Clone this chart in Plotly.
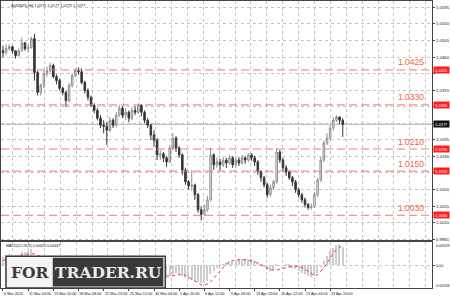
import plotly.graph_objects as go

# ---------------- data (AUDNZD, 8h bars) ----------------
opens = [1.0477, 1.0472, 1.0483, 1.0488, 1.0477, 1.0464, 1.0477, 1.0499, 1.0483, 1.0486,
         1.0510, 1.0418, 1.0364, 1.0383, 1.0415, 1.0423, 1.0437, 1.0407, 1.0396, 1.0375,
         1.0364, 1.0342, 1.0383, 1.0410, 1.0423, 1.0420, 1.0391, 1.0369, 1.0351, 1.0329,
         1.0315, 1.0294, 1.0275, 1.0272, 1.0261, 1.0288, 1.0275, 1.0302, 1.0321, 1.0302,
         1.0310, 1.0294, 1.0315, 1.0310, 1.0329, 1.0310, 1.0288, 1.0275, 1.0248, 1.0234,
         1.0194, 1.0197, 1.0186, 1.0175, 1.0213, 1.0240, 1.0213, 1.0194, 1.0153, 1.0121,
         1.0110, 1.0112, 1.0086, 1.0045, 1.0032, 1.0045, 1.0072, 1.0194, 1.0167, 1.0175,
         1.0167, 1.0180, 1.0172, 1.0186, 1.0167, 1.0180, 1.0172, 1.0186, 1.0180, 1.0194,
         1.0186, 1.0175, 1.0148, 1.0132, 1.0113, 1.0086, 1.0105, 1.0121, 1.0202, 1.0180,
         1.0159, 1.0148, 1.0132, 1.0121, 1.0099, 1.0086, 1.0072, 1.0059, 1.0051, 1.0053,
         1.0086, 1.0126, 1.0180, 1.0226, 1.0240, 1.0267, 1.0288, 1.0297, 1.0288]
highs = [1.0491, 1.0494, 1.0496, 1.0491, 1.0477, 1.0483, 1.0513, 1.0499, 1.0494, 1.0515,
         1.0523, 1.0423, 1.0388, 1.0423, 1.0434, 1.0445, 1.0442, 1.0413, 1.0402, 1.0380,
         1.0369, 1.0391, 1.0415, 1.0429, 1.0432, 1.0429, 1.0396, 1.0375, 1.0356, 1.0334,
         1.0321, 1.0302, 1.0288, 1.0283, 1.0297, 1.0294, 1.0310, 1.0329, 1.0326, 1.0321,
         1.0315, 1.0324, 1.0326, 1.0334, 1.0332, 1.0315, 1.0294, 1.0278, 1.0261, 1.0240,
         1.0207, 1.0202, 1.0191, 1.0221, 1.0253, 1.0245, 1.0218, 1.0199, 1.0159, 1.0126,
         1.0153, 1.0116, 1.0091, 1.0053, 1.0059, 1.0083, 1.0213, 1.0199, 1.0186, 1.0183,
         1.0188, 1.0186, 1.0194, 1.0191, 1.0186, 1.0188, 1.0194, 1.0191, 1.0199, 1.0199,
         1.0191, 1.0180, 1.0153, 1.0137, 1.0118, 1.0113, 1.0126, 1.0213, 1.0207, 1.0186,
         1.0167, 1.0153, 1.0137, 1.0126, 1.0105, 1.0091, 1.0078, 1.0064, 1.0062, 1.0094,
         1.0132, 1.0188, 1.0234, 1.0253, 1.0275, 1.0297, 1.0302, 1.0299, 1.0294]
lows = [1.0459, 1.0467, 1.0477, 1.0469, 1.0456, 1.0461, 1.0475, 1.0477, 1.0472, 1.0483,
        1.0396, 1.0356, 1.0356, 1.0375, 1.0407, 1.0418, 1.0402, 1.0386, 1.0369, 1.0356,
        1.0324, 1.0337, 1.0377, 1.0405, 1.0413, 1.0386, 1.0361, 1.0342, 1.0324, 1.0307,
        1.0288, 1.0267, 1.0253, 1.0221, 1.0256, 1.0267, 1.0269, 1.0297, 1.0294, 1.0288,
        1.0283, 1.0288, 1.0302, 1.0305, 1.0299, 1.0280, 1.0267, 1.0234, 1.0216, 1.0180,
        1.0180, 1.0175, 1.0161, 1.0172, 1.0207, 1.0202, 1.0186, 1.0140, 1.0113, 1.0099,
        1.0097, 1.0072, 1.0037, 1.0016, 1.0029, 1.0040, 1.0067, 1.0153, 1.0159, 1.0153,
        1.0161, 1.0159, 1.0167, 1.0159, 1.0159, 1.0164, 1.0167, 1.0170, 1.0175, 1.0178,
        1.0164, 1.0140, 1.0121, 1.0105, 1.0078, 1.0080, 1.0099, 1.0116, 1.0172, 1.0151,
        1.0137, 1.0126, 1.0110, 1.0091, 1.0078, 1.0064, 1.0051, 1.0045, 1.0045, 1.0051,
        1.0080, 1.0121, 1.0175, 1.0221, 1.0234, 1.0261, 1.0283, 1.0278, 1.0243]
closes = [1.0472, 1.0483, 1.0488, 1.0477, 1.0464, 1.0477, 1.0499, 1.0483, 1.0486, 1.0510,
          1.0418, 1.0364, 1.0383, 1.0415, 1.0423, 1.0437, 1.0407, 1.0396, 1.0375, 1.0364,
          1.0342, 1.0383, 1.0410, 1.0423, 1.0420, 1.0391, 1.0369, 1.0351, 1.0329, 1.0315,
          1.0294, 1.0275, 1.0272, 1.0261, 1.0288, 1.0275, 1.0302, 1.0321, 1.0302, 1.0310,
          1.0294, 1.0315, 1.0310, 1.0329, 1.0310, 1.0288, 1.0275, 1.0248, 1.0234, 1.0194,
          1.0197, 1.0186, 1.0175, 1.0213, 1.0240, 1.0213, 1.0194, 1.0153, 1.0121, 1.0110,
          1.0112, 1.0086, 1.0045, 1.0032, 1.0045, 1.0072, 1.0194, 1.0167, 1.0175, 1.0167,
          1.0180, 1.0172, 1.0186, 1.0167, 1.0180, 1.0172, 1.0186, 1.0180, 1.0194, 1.0186,
          1.0175, 1.0148, 1.0132, 1.0113, 1.0086, 1.0105, 1.0121, 1.0202, 1.0180, 1.0159,
          1.0148, 1.0132, 1.0121, 1.0099, 1.0086, 1.0072, 1.0059, 1.0051, 1.0053, 1.0086,
          1.0126, 1.0180, 1.0226, 1.0240, 1.0267, 1.0288, 1.0297, 1.0288, 1.0277]

macd_main = [0.0018, 0.0022, 0.0026, 0.0026, 0.0022, 0.0024, 0.0030, 0.0030, 0.0031, 0.0036,
             0.0020, -0.0002, -0.0012, -0.0014, -0.0012, -0.0008, -0.0010, -0.0013, -0.0018, -0.0022,
             -0.0028, -0.0026, -0.0020, -0.0014, -0.0010, -0.0011, -0.0015, -0.0022, -0.0030, -0.0036,
             -0.0042, -0.0047, -0.0050, -0.0053, -0.0049, -0.0045, -0.0039, -0.0032, -0.0028, -0.0024,
             -0.0022, -0.0018, -0.0015, -0.0011, -0.0010, -0.0012, -0.0015, -0.0019, -0.0023, -0.0029,
             -0.0032, -0.0033, -0.0030, -0.0026, -0.0020, -0.0019, -0.0021, -0.0026, -0.0031, -0.0034,
             -0.0034, -0.0036, -0.0040, -0.0042, -0.0041, -0.0037, -0.0022, -0.0014, -0.0008, -0.0003,
             0.0001, 0.0005, 0.0009, 0.0010, 0.0012, 0.0012, 0.0013, 0.0013, 0.0014, 0.0013,
             0.0011, 0.0006, 0.0001, -0.0005, -0.0011, -0.0013, -0.0012, -0.0003, 0.0000, 0.0000,
             -0.0001, -0.0004, -0.0006, -0.0010, -0.0014, -0.0018, -0.0022, -0.0026, -0.0028, -0.0026,
             -0.0018, -0.0005, 0.0010, 0.0021, 0.0031, 0.0040, 0.0046, 0.0048, 0.00420]
macd_signal = [0.0011, 0.0013, 0.0016, 0.0019, 0.0021, 0.0022, 0.0024, 0.0025, 0.0026, 0.0027,
               0.0026, 0.0024, 0.0020, 0.0016, 0.0012, 0.0008, 0.0004, 0.0001, -0.0003, -0.0006,
               -0.0010, -0.0013, -0.0015, -0.0016, -0.0016, -0.0015, -0.0015, -0.0016, -0.0018, -0.0021,
               -0.0025, -0.0030, -0.0035, -0.0039, -0.0042, -0.0043, -0.0043, -0.0041, -0.0038, -0.0034,
               -0.0030, -0.0027, -0.0024, -0.0021, -0.0018, -0.0016, -0.0015, -0.0015, -0.0017, -0.0019,
               -0.0022, -0.0024, -0.0025, -0.0025, -0.0024, -0.0022, -0.0021, -0.0021, -0.0023, -0.0027,
               -0.0031, -0.0035, -0.0040, -0.0045, -0.0046, -0.0043, -0.0038, -0.0030, -0.0022, -0.0013,
               -0.0005, 0.0003, 0.0008, 0.0011, 0.0012, 0.0013, 0.0013, 0.0013, 0.0012, 0.0010,
               0.0008, 0.0005, 0.0001, -0.0003, -0.0007, -0.0010, -0.0011, -0.0011, -0.0009, -0.0007,
               -0.0005, -0.0003, -0.0002, -0.0002, -0.0003, -0.0005, -0.0009, -0.0014, -0.0020, -0.0024,
               -0.0022, -0.0015, -0.0006, 0.0005, 0.0017, 0.0028, 0.0036, 0.0042, 0.00447]

levels = [1.0425, 1.0330, 1.0210, 1.0150, 1.0030]
price_tick_labels = [1.0595, 1.0550, 1.0505, 1.0460, 1.0370, 1.0235, 1.0190, 1.0100, 1.0055, 1.0010, 0.9965]
x_labels = ["6 Mar 2015", "11 Mar 04:00", "13 Mar 20:00", "18 Mar 08:00", "22 Mar 23:00",
            "25 Mar 12:00", "30 Mar 04:00", "1 Apr 20:00", "6 Apr 12:00", "9 Apr 04:00",
            "13 Apr 20:00", "16 Apr 12:00", "21 Apr 04:00", "23 Apr 20:00"]
x_label_bars = [0, 8, 16, 24, 32, 40, 48, 56, 64, 72, 80, 88, 96, 104]
macd_top, macd_bottom = 0.00529, -0.00526
title_text = "AUDNZD,H4 1.0275 1.0277 1.0275 1.0277"

# ---------------- geometry helpers ----------------
W, H = 450, 300
PX_PER_BAR = 3.16
X_FIRST = 2.0
RIGHT = 433.0


def px(x):
    return x / W


def py(y):
    return 1 - y / H


bars = list(range(len(closes)))
kmin = (0 - X_FIRST) / PX_PER_BAR
kmax = (RIGHT - X_FIRST) / PX_PER_BAR
grid0 = (11.7 - X_FIRST) / PX_PER_BAR
griddt = 15.96 / PX_PER_BAR

GRID = "#c4c4c4"
LINE = "#444444"
FONT = "Liberation Sans"

fig = go.Figure()
fig.add_trace(go.Candlestick(
    x=bars, open=opens, high=highs, low=lows, close=closes,
    increasing=dict(line=dict(color="#8e8e8e", width=1), fillcolor="#f2f2f2"),
    decreasing=dict(line=dict(color="#353535", width=1), fillcolor="#353535"),
    whiskerwidth=0, xaxis="x", yaxis="y", showlegend=False, hoverinfo="skip"))
fig.add_trace(go.Bar(
    x=bars, y=macd_main, width=0.45,
    marker=dict(color="#cdcdcd", line=dict(width=0)),
    xaxis="x2", yaxis="y2", showlegend=False, hoverinfo="skip"))
fig.add_trace(go.Scatter(
    x=bars, y=macd_signal, mode="lines",
    line=dict(color="#ff2a2a", width=1, dash="dot"),
    xaxis="x2", yaxis="y2", showlegend=False, hoverinfo="skip"))

shapes = []
for lv in levels:
    shapes.append(dict(type="line", xref="paper", yref="y", x0=0, x1=px(RIGHT), y0=lv, y1=lv,
                       line=dict(color="#f47676", width=1, dash="8px,4px"), layer="above"))
shapes.append(dict(type="line", xref="paper", yref="y", x0=0, x1=px(RIGHT),
                   y0=closes[-1], y1=closes[-1], line=dict(color="#b8b8b8", width=1), layer="below"))
# watermark logo
shapes.append(dict(type="rect", xref="paper", yref="paper", x0=px(5), x1=px(165), y0=py(289), y1=py(257),
                   fillcolor="#f4f4f4", line=dict(color="#3c3c3c", width=1.5), layer="above"))
shapes.append(dict(type="rect", xref="paper", yref="paper", x0=px(52), x1=px(163), y0=py(287.5), y1=py(258.5),
                   fillcolor="#3a3a3a", line=dict(width=0), layer="above"))

ann = []
tiny = dict(family=FONT, size=3.9, color="#111111")
ann.append(dict(text=title_text, x=px(8), y=py(4.5), xref="paper", yref="paper",
                xanchor="left", yanchor="middle", showarrow=False, font=tiny))
ann.append(dict(text=f"MACD(12,26,9) {macd_main[-1]:.5f} {macd_signal[-1]:.5f}", x=px(3), y=py(247),
                xref="paper", yref="paper", xanchor="left", yanchor="middle", showarrow=False,
                font=dict(family=FONT, size=3.7, color="#111111")))
for lab, b in zip(x_labels, x_label_bars):
    ann.append(dict(text=lab, x=b, xref="x2", y=py(294.8), yref="paper", xanchor="left", yanchor="middle",
                    showarrow=False, font=dict(family=FONT, size=3.8, color="#111111"), xshift=-1))
for txt, xpx, ypx in [(f"{macd_top:.5f}", 435, 246.5), ("0.00", 435, 266.5), (f"{macd_bottom:.5f}", 433.5, 287.3)]:
    ann.append(dict(text=txt, x=px(xpx), y=py(ypx), xref="paper", yref="paper", xanchor="left",
                    yanchor="middle", showarrow=False, font=dict(family=FONT, size=3.7, color="#111111")))
for lv in levels:
    ann.append(dict(text=f"{lv:.4f}", x=px(426.5), y=lv, xref="paper", yref="y", xanchor="right",
                    yanchor="bottom", yshift=0.5, showarrow=False,
                    font=dict(family=FONT, size=8.5, color="#ff5a36")))
    ann.append(dict(text=f"{lv:.4f}", x=px(433.5), y=lv, xref="paper", yref="y", xanchor="left",
                    yanchor="middle", showarrow=False, bgcolor="#ff1e1e", borderpad=0.6, width=14,
                    font=dict(family=FONT, size=4.0, color="#ffffff")))
ann.append(dict(text=f"{closes[-1]:.4f}", x=px(433.5), y=closes[-1], xref="paper", yref="y",
                xanchor="left", yanchor="middle", showarrow=False, bgcolor="#111111", borderpad=0.6,
                width=14, font=dict(family=FONT, size=4.0, color="#ffffff")))
ann.append(dict(text="<b>FOR</b>", x=px(29), y=py(273.5), xref="paper", yref="paper",
                xanchor="center", yanchor="middle", showarrow=False,
                font=dict(family="DejaVu Serif", size=15.5, color="#3a3a3a")))
ann.append(dict(text="<b>TRADER.RU</b>", x=px(107.5), y=py(273.5), xref="paper", yref="paper",
                xanchor="center", yanchor="middle", showarrow=False,
                font=dict(family="DejaVu Serif", size=15.5, color="#ececec")))

common_x = dict(range=[kmin, kmax], domain=[0, px(RIGHT)], zeroline=False, showline=True, mirror=True,
                linecolor=LINE, linewidth=1, fixedrange=True)
fig.update_layout(
    width=W, height=H, margin=dict(l=0, r=0, t=0, b=0),
    paper_bgcolor="#ffffff", plot_bgcolor="#ffffff", showlegend=False,
    font=dict(family=FONT),
    bargap=0,
    xaxis=dict(**common_x, anchor="y", tickmode="linear", tick0=grid0, dtick=griddt,
               showticklabels=False, ticks="", showgrid=True, gridcolor=GRID, griddash="dot",
               rangeslider=dict(visible=False)),
    yaxis=dict(domain=[py(241), 1], range=[0.99617, 1.06124], side="right", anchor="x",
               tickmode="array", tickvals=price_tick_labels, tickformat=".4f",
               tickfont=dict(family=FONT, size=4.3, color="#111111"), ticks="outside", ticklen=2,
               tickcolor=LINE, showgrid=False, zeroline=False,
               minor=dict(tickmode="linear", tick0=0.9965, dtick=0.0045, showgrid=True,
                          gridcolor=GRID, griddash="dot", ticks="outside", ticklen=2, tickcolor=LINE),
               showline=True, mirror=True, linecolor=LINE, fixedrange=True),
    xaxis2=dict(**common_x, anchor="y2", tickmode="array", tickvals=x_label_bars, showticklabels=False,
                ticks="outside", ticklen=2, tickcolor=LINE, showgrid=False,
                minor=dict(tickmode="linear", tick0=grid0, dtick=griddt, showgrid=True,
                           gridcolor=GRID, griddash="dot", ticks="")),
    yaxis2=dict(domain=[py(289), py(243)], range=[macd_bottom, macd_top], side="right", anchor="x2",
                tickmode="array", tickvals=[0], showticklabels=False, ticks="outside", ticklen=2,
                tickcolor=LINE, showgrid=True, gridcolor=GRID, griddash="dot", zeroline=False,
                showline=True, mirror=True, linecolor=LINE, fixedrange=True),
    shapes=shapes, annotations=ann,
)

fig.write_html("out.html")
